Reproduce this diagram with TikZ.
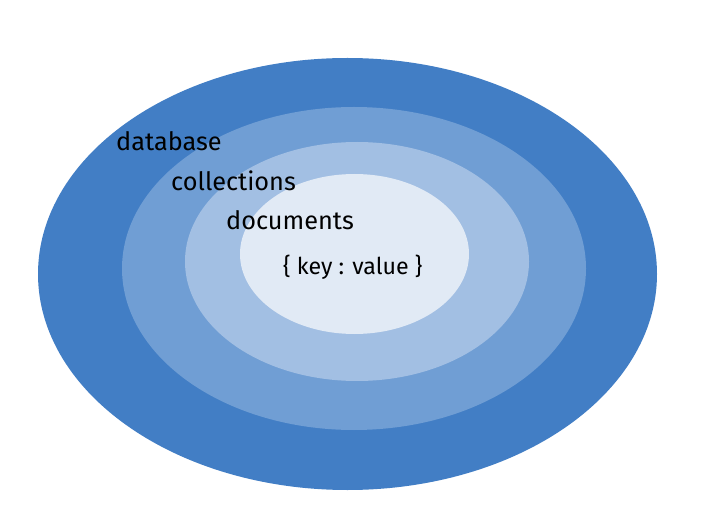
\documentclass[tikz,border=0pt]{standalone}
\usepackage{fontspec}
\setmainfont{Fira Sans}
\definecolor{ringA}{HTML}{427EC5}
\definecolor{ringB}{HTML}{709ED4}
\definecolor{ringC}{HTML}{A2BFE3}
\definecolor{ringD}{HTML}{E1EAF5}
\tikzset{lbl/.style={anchor=west, inner sep=0pt, text=black, font=\fontsize{25.3}{28}\selectfont}}
\begin{document}
\begin{tikzpicture}[x=1pt,y=-1pt]
\useasboundingbox (0,0) rectangle (720,521);
\fill[white] (0,0) rectangle (720,521);
\fill[ringA] (347.5,274) ellipse [x radius=309.5, y radius=216];
\fill[ringB] (354,268.5) ellipse [x radius=232, y radius=161.5];
\fill[ringC] (357,261.5) ellipse [x radius=172, y radius=119.5];
\fill[ringD] (354.5,254) ellipse [x radius=114.5, y radius=80];
\node[lbl] (db) at (116,141) {database};
\node[lbl] (col) at (171,181) {collections};
\node[lbl] (doc) at (226,220) {documents};
\node[lbl, font=\fontsize{23.2}{26}\selectfont] (kv) at (283,267) {\{ key : value \}};
\end{tikzpicture}
\end{document}
